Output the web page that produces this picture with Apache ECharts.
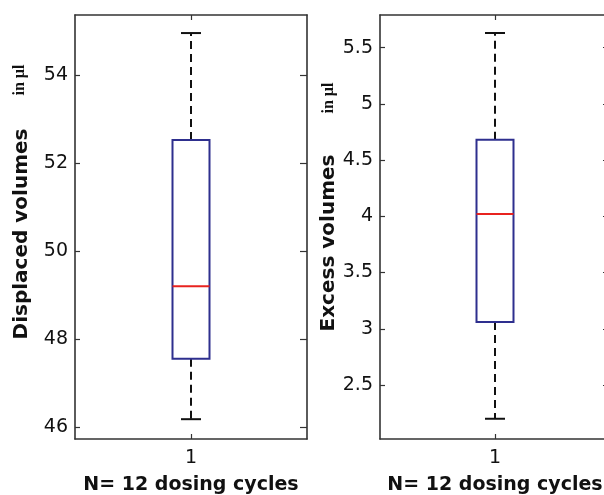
<!DOCTYPE html>
<html>
<head>
<meta charset="utf-8">
<script src="https://cdn.jsdelivr.net/npm/echarts@6/dist/echarts.min.js"></script>
<style>
html,body{margin:0;padding:0;background:#fff;overflow:hidden;}
#chart{width:604px;height:495px;}
</style>
</head>
<body>
<div id="chart"></div>
<script>
// ---- data ----
const categories = ['1'];
// [min, Q1, median, Q3, max]
const displacedStats = [46.18, 47.55, 49.20, 52.52, 54.95];
const excessStats = [2.20, 3.06, 4.02, 4.68, 5.63];
const displacedTicks = [46, 48, 50, 52, 54];
const excessTicks = [2.5, 3, 3.5, 4, 4.5, 5, 5.5];
const displacedRange = [45.73, 55.36];
const excessRange = [2.02, 5.79];
const xAxisTitle = 'N= 12 dosing cycles';
const leftTitle = 'Displaced volumes';
const rightTitle = 'Excess volumes';
const unitText = 'in \u00b5l';

const AX = '#333';
const TXT = '#111';
const tickFont = { fontFamily: 'DejaVu Sans', fontSize: 19, color: TXT };
const nameFont = { fontFamily: 'DejaVu Sans', fontSize: 20, fontWeight: 'bold', color: TXT };

function yAxesFor(gridIndex, range, ticks, title, shift) {
  return [
    {
      type: 'value', gridIndex, position: 'left', min: range[0], max: range[1],
      splitLine: { show: false },
      axisLine: { show: true, lineStyle: { color: AX, width: 1.6 } },
      axisTick: { show: true, inside: true, length: 5, lineStyle: { color: AX, width: 1.2 }, customValues: ticks },
      axisLabel: { show: true, margin: 7, customValues: ticks, formatter: v => String(v), ...tickFont },
      name: title, nameLocation: 'middle', nameGap: gridIndex === 0 ? 43 : 40,
      nameTextStyle: { ...nameFont, padding: [0, shift, 0, 0] }
    },
    {
      type: 'value', gridIndex, position: 'right', min: range[0], max: range[1],
      splitLine: { show: false },
      axisLine: { show: true, lineStyle: { color: AX, width: 1.6 } },
      axisTick: { show: true, inside: true, length: 7, lineStyle: { color: AX, width: 1.2 }, customValues: ticks },
      axisLabel: { show: false }
    }
  ];
}

function xAxesFor(gridIndex) {
  return [
    {
      type: 'category', gridIndex, position: 'bottom', data: categories, boundaryGap: true,
      axisLine: { show: true, lineStyle: { color: AX, width: 1.6 } },
      axisTick: { show: true, inside: true, length: 5, alignWithLabel: true, lineStyle: { color: AX, width: 1.2 } },
      axisLabel: { show: true, margin: 10, ...tickFont },
      name: xAxisTitle, nameLocation: 'middle', nameGap: 37,
      nameTextStyle: { fontFamily: 'DejaVu Sans', fontSize: 19, fontWeight: 'bold', color: TXT }
    },
    {
      type: 'category', gridIndex, position: 'top', data: categories, boundaryGap: true,
      axisLine: { show: true, lineStyle: { color: AX, width: 1.6 } },
      axisTick: { show: true, inside: true, length: 5, alignWithLabel: true, lineStyle: { color: AX, width: 1.2 } },
      axisLabel: { show: false }
    }
  ];
}

function renderBox(params, api) {
  const xi = api.value(0);
  const pMin = api.coord([xi, api.value(1)]);
  const pQ1 = api.coord([xi, api.value(2)]);
  const pMed = api.coord([xi, api.value(3)]);
  const pQ3 = api.coord([xi, api.value(4)]);
  const pMax = api.coord([xi, api.value(5)]);
  const xc = pMed[0];
  const boxHalf = 18.5, capHalf = 10;
  const dash = { stroke: '#111', lineWidth: 2, lineDash: [8, 5], fill: null };
  const solid = { stroke: '#111', lineWidth: 2, fill: null };
  return {
    type: 'group',
    children: [
      { type: 'line', shape: { x1: xc, y1: pQ3[1], x2: xc, y2: pMax[1] }, style: dash },
      { type: 'line', shape: { x1: xc, y1: pQ1[1], x2: xc, y2: pMin[1] }, style: dash },
      { type: 'line', shape: { x1: xc - capHalf, y1: pMax[1], x2: xc + capHalf, y2: pMax[1] }, style: solid },
      { type: 'line', shape: { x1: xc - capHalf, y1: pMin[1], x2: xc + capHalf, y2: pMin[1] }, style: solid },
      { type: 'rect', shape: { x: xc - boxHalf, y: pQ3[1], width: boxHalf * 2, height: pQ1[1] - pQ3[1] },
        style: { stroke: '#2e2f8e', lineWidth: 2, fill: null } },
      { type: 'line', shape: { x1: xc - boxHalf, y1: pMed[1], x2: xc + boxHalf, y2: pMed[1] },
        style: { stroke: '#e8231f', lineWidth: 2 } }
    ]
  };
}

const chart = echarts.init(document.getElementById('chart'), null, { renderer: 'canvas' });
chart.setOption({
  backgroundColor: '#fff',
  animation: false,
  grid: [
    { left: 75, top: 15, width: 232, height: 424, outerBoundsMode: 'none', containLabel: false },
    { left: 380, top: 15, width: 230, height: 424, outerBoundsMode: 'none', containLabel: false }
  ],
  xAxis: [...xAxesFor(0), ...xAxesFor(1)],
  yAxis: [
    ...yAxesFor(0, displacedRange, displacedTicks, leftTitle, 14),
    ...yAxesFor(1, excessRange, excessTicks, rightTitle, 32)
  ],
  graphic: [
    { type: 'text', x: 20, y: 80, rotation: Math.PI / 2,
      style: { text: unitText, fontFamily: 'Liberation Serif', fontWeight: 'bold', fontSize: 16, fill: TXT, align: 'center', verticalAlign: 'middle' } },
    { type: 'text', x: 329, y: 98, rotation: Math.PI / 2,
      style: { text: unitText, fontFamily: 'Liberation Serif', fontWeight: 'bold', fontSize: 16, fill: TXT, align: 'center', verticalAlign: 'middle' } }
  ],
  series: [
    { type: 'custom', name: leftTitle, xAxisIndex: 0, yAxisIndex: 0, clip: false,
      encode: { x: 0, y: [1, 2, 3, 4, 5] },
      renderItem: renderBox, data: [[0, ...displacedStats]] },
    { type: 'custom', name: rightTitle, xAxisIndex: 2, yAxisIndex: 2, clip: false,
      encode: { x: 0, y: [1, 2, 3, 4, 5] },
      renderItem: renderBox, data: [[0, ...excessStats]] }
  ]
});
</script>
</body>
</html>
